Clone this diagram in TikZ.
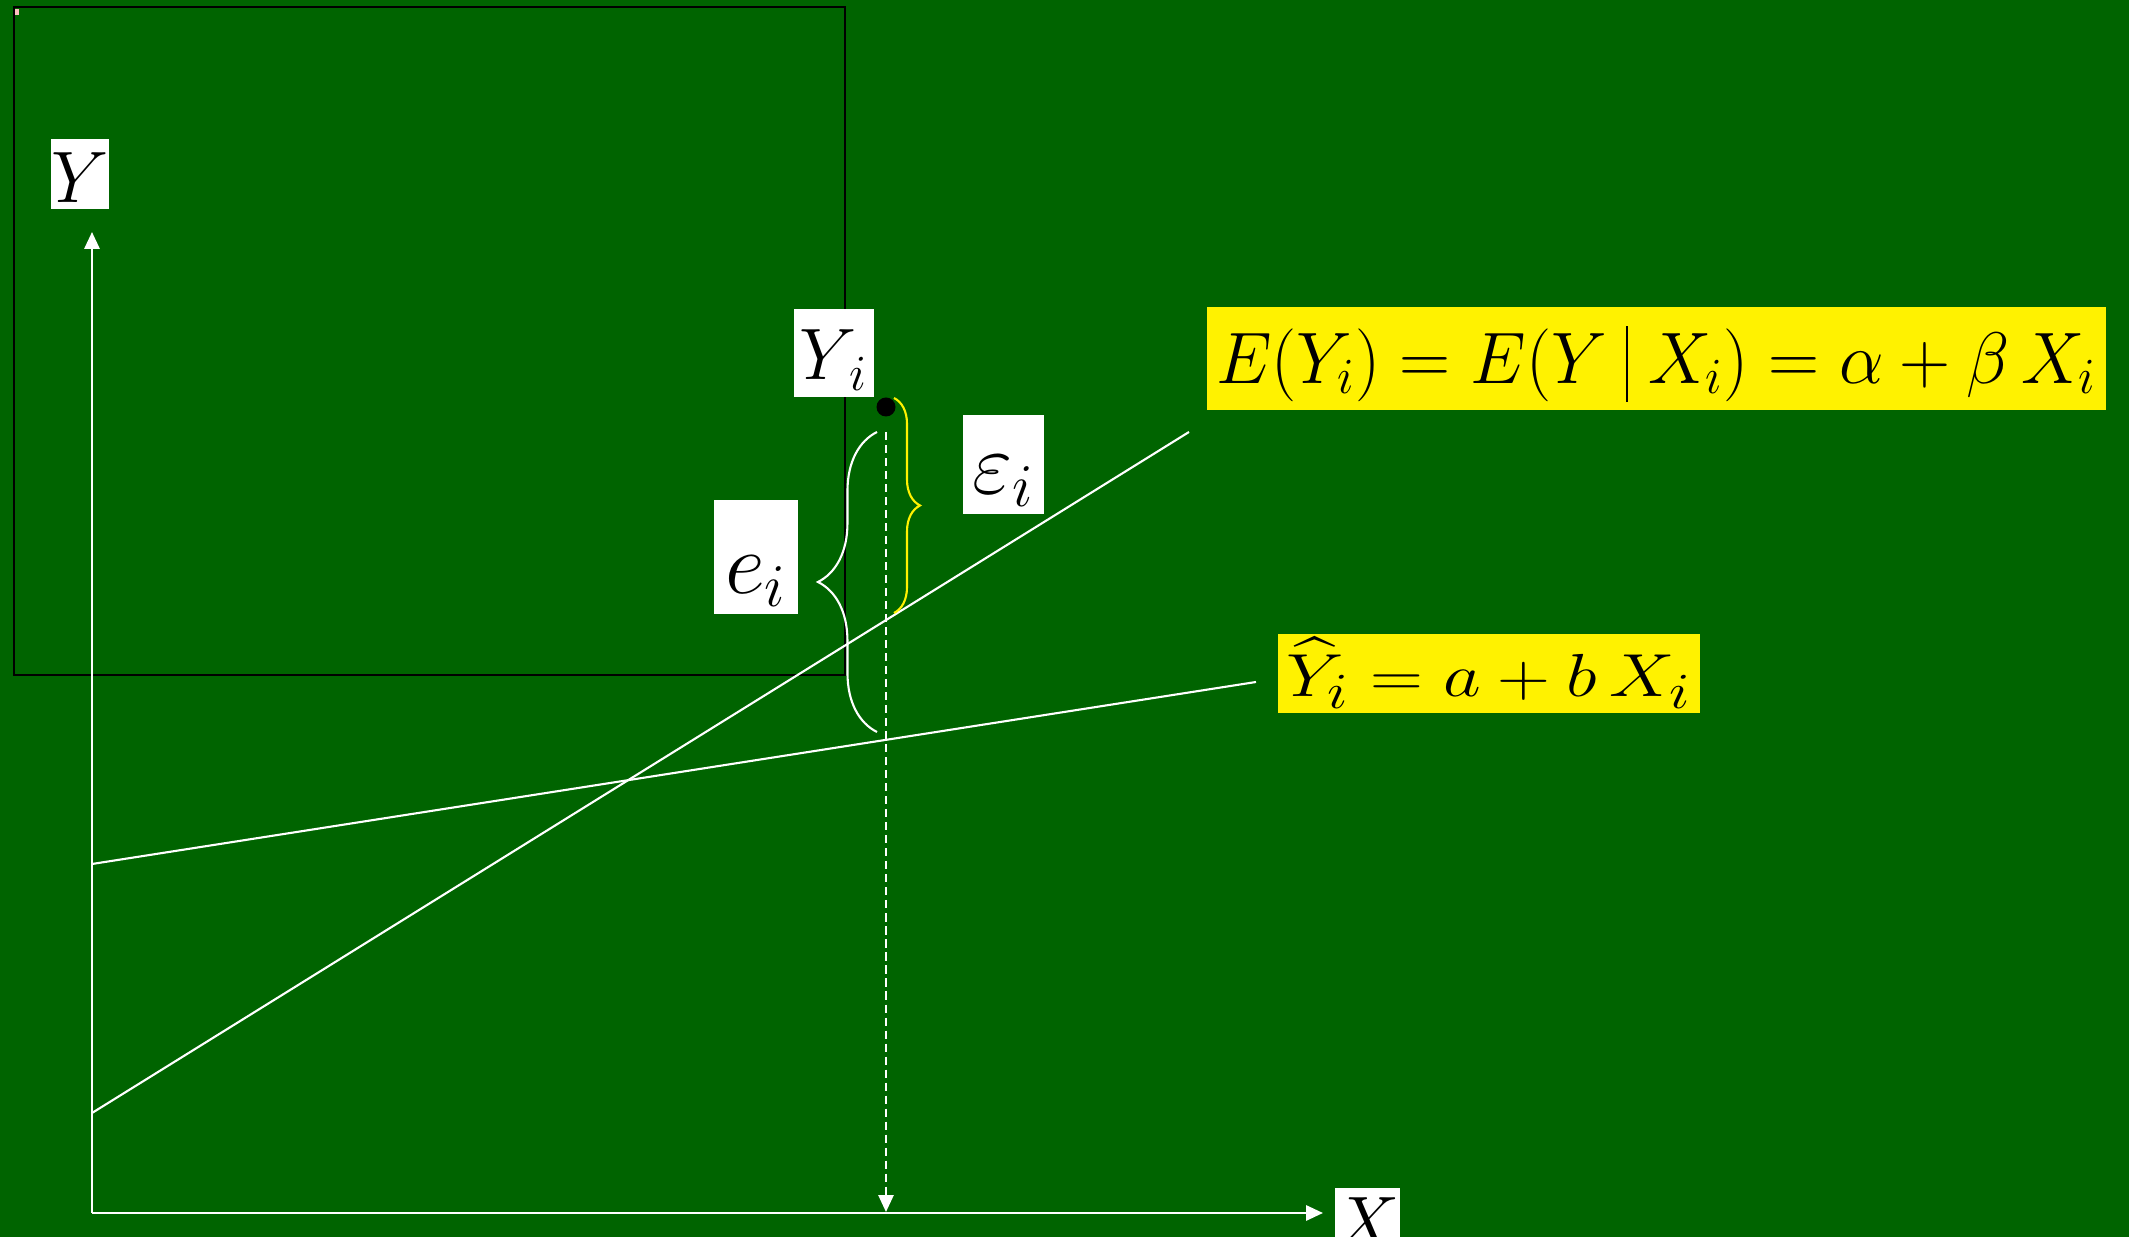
\documentclass[tikz,border=0pt]{standalone}
\usepackage{amsmath}
\usepackage{graphicx}
\usetikzlibrary{arrows.meta,decorations.pathreplacing,calc}
\definecolor{board}{RGB}{0,100,0}

\begin{document}
\begin{tikzpicture}[x=0.01cm,y=-0.01cm,>={Triangle[length=4.8pt,width=4.3pt]},
   lbl/.style={fill=white,inner sep=0pt,font=\fontsize{22}{26}\selectfont},
   eqbox/.style={fill=yellow,inner sep=0pt},
   fitline/.style={white,line width=0.6pt},
   axisline/.style={white,line width=0.7pt,->},
   bracedec/.style={decorate,decoration={brace,amplitude=#1},line width=0.6pt}]
  \useasboundingbox (0,0) rectangle (2129,1237);
  \fill[board] (0,0) rectangle (2129,1237);
  \draw[black,line width=0.4pt] (14,7) rectangle (845,675);
  \fill[red!25!white] (15,9) rectangle (19,15);
  % axes
  \coordinate (O) at (92,1213);
  \coordinate (ytip) at (92,232);
  \coordinate (xtip) at (1323,1213);
  \draw[axisline] (O) -- (ytip);
  \draw[axisline] (O) -- (xtip);
  \node[lbl,minimum width=0.52cm,minimum height=0.70cm,text height=0.56cm,text depth=0cm] (ylab) at (80,174) {$Y$};
  \node[lbl,minimum width=0.60cm,minimum height=0.70cm] (xlab) at (1367,1223) {$X$};
  % the two lines
  \coordinate (a0) at (92,1113);
  \coordinate (a1) at (1189,432);
  \coordinate (b0) at (92,864);
  \coordinate (b1) at (1256,682);
  \path[fitline]
   (a0) edge (a1)
   (b0) edge (b1);
  % observation
  \node[circle,fill=black,inner sep=0pt,minimum size=0.19cm] (obs) at (886,407) {};
  \node[lbl,minimum width=0.80cm,minimum height=0.87cm,text height=0.53cm,text depth=0cm] (yi) at (834,353) {$Y_{\,i}$};
  \coordinate (d0) at (886,432);
  \coordinate (d1) at (886,1212);
  \draw[white,line width=0.6pt,dash pattern=on 2.3pt off 1.4pt,->] (d0) -- (d1);
  % residuals
  \coordinate (w0) at (877,732);
  \coordinate (w1) at (877,432);
  \coordinate (k0) at (894,398);
  \coordinate (k1) at (894,613);
  \draw[white,bracedec=0.59cm] (w0) -- (w1);
  \draw[yellow,bracedec=0.26cm] (k0) -- (k1);
  \node[lbl,font=\fontsize{26}{30}\selectfont,minimum width=0.84cm,minimum height=1.14cm,text height=0.72cm,text depth=0cm] (elab) at (756,557) {$e_i$};
  \node[lbl,font=\fontsize{26}{30}\selectfont,minimum width=0.81cm,minimum height=0.99cm,text height=0.57cm,text depth=0cm] (eplab) at (1003.5,464.5) {$\varepsilon_i$};
  % equations
  \node[eqbox,font=\fontsize{22}{26}\selectfont,minimum width=8.99cm,minimum height=1.03cm,text height=0.49cm,text depth=0cm] (pop) at (1656.5,358.5)
   {\resizebox{8.8cm}{\height}{$E(Y_i)=E(Y\;\rule[-0.19cm]{0.6pt}{0.76cm}\;X_i)=\alpha+\beta\,X_i$}};
  \node[eqbox,font=\fontsize{19}{23}\selectfont,minimum width=4.22cm,minimum height=0.79cm,text height=0.46cm,text depth=0cm] (smp) at (1489,673.5)
   {\resizebox{4.05cm}{\height}{$\widehat{Y}_i=a+b\,X_i$}};
\end{tikzpicture}
\end{document}
